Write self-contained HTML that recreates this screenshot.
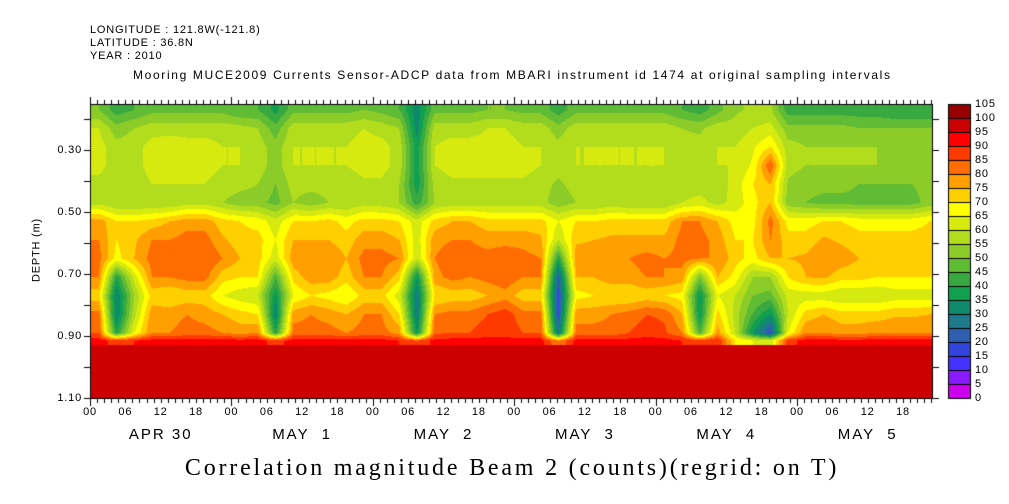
<!DOCTYPE html>
<html><head><meta charset="utf-8">
<style>
html,body{margin:0;padding:0;background:#fff;}
#wrap{position:relative;width:1009px;height:504px;overflow:hidden;font-family:"Liberation Sans",sans-serif;color:#000;}
.t{position:absolute;font-size:11px;white-space:nowrap;line-height:1;}
canvas{position:absolute;left:0;top:0;}
</style></head><body>
<div id="wrap">
<canvas id="c" width="1009" height="504"></canvas>
<div class="t" style="left:90px;top:25px;letter-spacing:0.8px">LONGITUDE : 121.8W(-121.8)</div>
<div class="t" style="left:90px;top:38px;letter-spacing:0.8px">LATITUDE : 36.8N</div>
<div class="t" style="left:90px;top:51px;letter-spacing:0.8px">YEAR : 2010</div>
<div class="t" style="left:133px;top:69px;font-size:12px;letter-spacing:1.65px">Mooring MUCE2009 Currents Sensor-ADCP data from MBARI instrument id 1474 at original sampling intervals</div>
<div class="t" style="top:250px;transform:translate(-50%,-50%) rotate(-90deg);font-size:11px;left:37px;letter-spacing:0.8px">DEPTH (m)</div>
<div class="t" style="left:512px;top:456px;transform:translateX(-50%);font-family:'Liberation Serif',serif;font-size:24px;letter-spacing:2.8px">Correlation magnitude Beam 2 (counts)(regrid: on T)</div>
<div id="labels"></div>
</div>
<script>
const depths=[0.17,0.23,0.29,0.35,0.41,0.47,0.53,0.59,0.65,0.71,0.77,0.83,0.89,0.915];
const colHours=[];for(let i=0;i<48;i++)colHours.push(1.5+3*i);
const cols=[
[50,60,62,62,58,58,78,80,82,80,72,82,85,92],
[42,52,57,57,55,55,70,70,68,40,30,30,40,88],
[45,55,58,58,57,55,70,74,75,62,55,58,65,90],
[48,58,62,62,60,55,72,80,82,80,72,78,80,92],
[48,58,63,63,60,55,75,80,84,80,70,78,80,92],
[48,58,62,63,60,58,78,82,84,82,72,80,82,92],
[48,58,62,62,60,58,78,82,85,82,72,78,82,92],
[48,58,60,60,58,55,72,76,80,72,65,75,80,92],
[45,57,60,60,57,52,70,72,75,70,62,72,78,92],
[45,55,58,58,55,52,68,72,72,70,60,70,80,92],
[38,47,52,52,50,48,62,65,62,45,35,30,40,88],
[48,58,60,60,57,55,70,75,78,72,65,78,82,92],
[48,58,60,60,57,52,70,75,80,78,70,80,82,92],
[48,58,60,60,57,55,72,75,80,78,68,78,82,92],
[48,58,60,60,57,55,68,72,75,72,65,75,80,92],
[50,60,62,62,59,58,72,78,82,80,72,80,82,92],
[48,58,62,62,59,57,72,78,82,80,72,80,82,92],
[45,55,58,58,55,55,70,75,80,72,62,70,78,90],
[32,32,37,37,37,42,62,62,60,35,28,28,35,85],
[48,58,60,60,57,55,72,78,80,78,70,80,84,92],
[48,58,62,62,59,57,75,80,84,82,72,82,85,92],
[48,58,62,62,59,57,75,80,82,80,72,82,85,92],
[50,60,62,62,59,57,72,78,82,82,75,85,88,92],
[50,60,62,62,59,57,72,78,84,84,78,88,88,92],
[48,58,60,62,59,57,72,78,82,80,72,82,85,92],
[48,58,60,60,57,57,72,76,80,80,72,82,85,92],
[42,52,57,57,54,52,65,60,40,22,18,18,28,80],
[48,58,60,60,57,55,70,74,78,75,68,78,82,92],
[48,58,60,60,57,55,70,75,78,75,70,78,82,92],
[48,58,60,60,57,57,72,76,80,78,70,80,82,92],
[48,58,60,60,57,55,72,76,80,78,70,82,85,92],
[48,58,60,60,57,55,72,76,82,80,72,85,88,92],
[48,58,60,60,57,55,72,76,80,80,70,84,86,92],
[45,55,57,57,57,60,80,82,82,78,68,75,80,90],
[42,54,57,57,57,62,80,82,80,50,35,35,45,88],
[48,58,60,60,57,58,75,78,80,75,65,72,78,90],
[54,57,60,60,62,62,68,70,72,68,60,58,60,70],
[56,60,64,66,70,68,68,70,68,55,50,45,35,65],
[56,62,70,85,75,75,82,80,75,55,48,35,18,62],
[42,52,57,57,54,52,68,72,75,70,62,60,65,88],
[42,52,55,55,52,50,68,72,76,75,62,72,80,92],
[42,52,55,55,52,48,70,76,80,76,62,75,80,92],
[42,52,55,55,52,48,70,74,78,72,60,72,78,92],
[42,50,55,55,50,48,68,72,75,72,60,72,78,92],
[42,50,55,55,50,48,68,72,75,70,60,72,80,92],
[40,50,53,53,50,48,68,72,74,70,62,74,80,92],
[40,50,53,53,50,48,68,72,74,70,62,74,80,92],
[40,50,54,54,52,52,70,72,74,70,62,75,80,92]
];
const bottomValue=97, bottomDepth=0.93;
const levels=[0,5,10,15,20,25,30,35,40,45,50,55,60,65,70,75,80,85,90,95,100,105];
const palette=["#cc00ee","#8a1aff","#4433ff","#3344dd","#2e5fb0","#1e7a8a","#0f8a6a","#10a050","#38a840","#60bb35","#8ccc28","#b2dd1c","#d6ea10","#ffff00","#ffd000","#ff9f00","#ff6c00","#ff3a00","#ff0000","#cc0000","#990000"];
const yTicks=[0.3,0.5,0.7,0.9,1.1];
const dayLabels=["APR 30","MAY  1","MAY  2","MAY  3","MAY  4","MAY  5"];
const hourLabels=["00","06","12","18"];

const L=90,R=933,T=104,B=398,PXH=141.4/24;
const dMax=1.10;
function xS(h){return L+h*PXH;}
function yS(d){return B-(dMax-d)*310;}
function hOf(x){return (x-L)/PXH;}
function dOf(y){return dMax-(B-y)/310;}
function hex(c){return[parseInt(c.substr(1,2),16),parseInt(c.substr(3,2),16),parseInt(c.substr(5,2),16)];}
const rgb=palette.map(hex);
function lvl(v){let i=Math.floor(v/5);return Math.max(0,Math.min(20,i));}
function interp(xs,x){
  if(x<=xs[0])return [0,0,0];
  if(x>=xs[xs.length-1])return [xs.length-1,xs.length-1,0];
  let i=0;while(xs[i+1]<x)i++;
  return [i,i+1,(x-xs[i])/(xs[i+1]-xs[i])];
}
const cv=document.getElementById('c');const ctx=cv.getContext('2d');
ctx.fillStyle='#fff';ctx.fillRect(0,0,1009,504);
const img=ctx.createImageData(R-L,B-T);
for(let py=0;py<B-T;py++){
  const d=dOf(T+py+0.5);
  const [r0,r1,rf]=interp(depths,d);
  for(let px=0;px<R-L;px++){
    let v;
    if(d>=bottomDepth)v=bottomValue;
    else{
      const h=hOf(L+px+0.5);
      const [c0,c1,cf]=interp(colHours,h);
      const a=cols[c0][r0]*(1-rf)+cols[c0][r1]*rf;
      const b=cols[c1][r0]*(1-rf)+cols[c1][r1]*rf;
      v=a*(1-cf)+b*cf;
    }
    const c=rgb[lvl(v)];const k=(py*(R-L)+px)*4;
    img.data[k]=c[0];img.data[k+1]=c[1];img.data[k+2]=c[2];img.data[k+3]=255;
  }
}
ctx.putImageData(img,L,T);
ctx.strokeStyle='#000';ctx.lineWidth=1;
ctx.strokeRect(L+0.5,T+0.5,R-L-1,B-T);
ctx.beginPath();
for(let day=0;day<=6;day++){
  for(let k=0;k<20;k++){
    const x=Math.round(xS(day*24+k*1.2))+0.5; if(x>R)break;
    const len=k==0?7:4;
    ctx.moveTo(x,T);ctx.lineTo(x,T-len);
    ctx.moveTo(x,B);ctx.lineTo(x,B+(k==0?8:5));
  }
}
for(let d=0.2;d<=1.101;d+=0.1){
  const y=Math.round(yS(d))+0.5;
  ctx.moveTo(L,y);ctx.lineTo(L-6,y);
  ctx.moveTo(R,y);ctx.lineTo(R+6,y);
}
ctx.stroke();
const CX=948,CW=22,CT=104,CB=398,step=(CB-CT)/21;
for(let i=0;i<21;i++){
  const y0=CB-(i+1)*step;
  ctx.fillStyle=palette[i];ctx.fillRect(CX,y0,CW,step);
  ctx.strokeRect(CX+0.5,Math.round(y0)+0.5,CW,Math.round(step));
}
const lab=document.getElementById('labels');
function addT(txt,x,y,name,style){
  const e=document.createElement('div');e.className='t';e.textContent=txt;
  e.style.left=x+'px';e.style.top=y+'px';if(style)e.style.cssText+=style;
  
  
  lab.appendChild(e);return e;
}
yTicks.forEach(d=>{addT(d.toFixed(2),82,yS(d)-5,'y-tick-label','transform:translateX(-100%);letter-spacing:0.8px');});
for(let day=0;day<6;day++){
  hourLabels.forEach((hl,j)=>{addT(hl,xS(day*24+j*6),407,'x-tick-label','transform:translateX(-50%);letter-spacing:0.8px');});
  addT(dayLabels[day],xS(day*24+12),427,'day-label','transform:translateX(-50%);font-size:15px;white-space:pre;letter-spacing:2px');
}
levels.forEach((v,i)=>{addT(String(v),975,CB-i*step-5,'colorbar-label','font-size:11px;letter-spacing:0.8px');});
</script>
</body></html>
